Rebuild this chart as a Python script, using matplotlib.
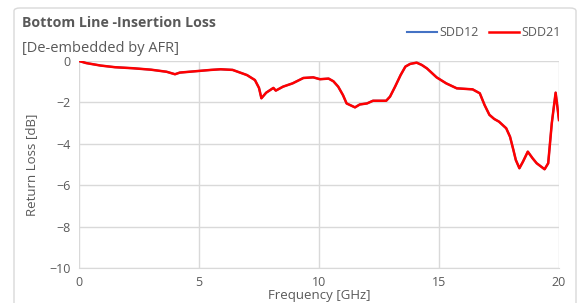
import matplotlib.pyplot as plt
from matplotlib.patches import FancyBboxPatch

# (GHz, dB)
freq = [0.0, 0.3, 0.9, 1.5, 2.25, 3.0, 3.65, 4.0, 4.2, 4.6, 5.0, 5.5, 5.9, 6.4, 7.0, 7.33,
        7.5, 7.6, 7.8, 8.1, 8.2, 8.5, 8.9, 9.35, 9.76, 10.04, 10.4, 10.6, 10.8, 11.0, 11.15,
        11.5, 11.7, 12.0, 12.25, 12.8, 12.96, 13.17, 13.4, 13.6, 13.8, 14.07, 14.28, 14.5,
        14.9, 15.3, 15.74, 16.4, 16.7, 16.9, 17.1, 17.3, 17.5, 17.8, 17.96, 18.1, 18.2, 18.35,
        18.5, 18.7, 18.9, 19.07, 19.4, 19.55, 19.7, 19.86, 20.0]
sdd21 = [0.0, -0.1, -0.22, -0.3, -0.35, -0.42, -0.52, -0.64, -0.56, -0.52, -0.48, -0.43, -0.4,
         -0.43, -0.68, -0.92, -1.3, -1.8, -1.53, -1.3, -1.43, -1.24, -1.08, -0.82, -0.79, -0.88,
         -0.85, -0.98, -1.24, -1.65, -2.05, -2.24, -2.1, -2.05, -1.92, -1.92, -1.72, -1.24,
         -0.68, -0.27, -0.14, -0.08, -0.19, -0.36, -0.79, -1.08, -1.32, -1.37, -1.56, -2.13,
         -2.6, -2.8, -2.93, -3.25, -3.66, -4.3, -4.78, -5.18, -4.86, -4.38, -4.7, -4.94,
         -5.23, -4.94, -3.0, -1.53, -2.85]
sdd12 = list(sdd21)  # hidden under SDD21 in the original

xticks = [0, 5, 10, 15, 20]
yticks = [0, -2, -4, -6, -8, -10]

plt.rcParams['font.family'] = ['Open Sans', 'DejaVu Sans']
gray = '#595959'

fig = plt.figure(figsize=(5.78, 3.03), dpi=100)
fig.patches.append(FancyBboxPatch((14 / 578, -0.05), 562 / 578, 1.0 - 8 / 303 + 0.05,
                                  boxstyle='round,pad=0,rounding_size=0.01',
                                  transform=fig.transFigure, fill=False,
                                  edgecolor='#d9d9d9', linewidth=1))

ax = fig.add_axes([79 / 578, 1 - 268 / 303, 480 / 578, 207 / 303])
ax.plot(freq, sdd12, color='#4472c4', linewidth=1.5, label='SDD12')
ax.plot(freq, sdd21, color='#ff0000', linewidth=1.8, label='SDD21')

ax.set_xlim(0, 20)
ax.set_ylim(-10, 0)
ax.set_xticks(xticks)
ax.set_yticks(yticks)
ax.grid(True, color='#d9d9d9', linewidth=1)
ax.set_axisbelow(True)
for side in ['top', 'right', 'left']:
    ax.spines[side].set_visible(False)
ax.spines['bottom'].set_color('#d9d9d9')
ax.tick_params(length=0, colors=gray, labelsize=9, pad=6)
ax.set_xlabel('Frequency [GHz]', color=gray, fontsize=9.5, labelpad=0)
ax.set_ylabel('Return Loss [dB]', color=gray, fontsize=9.5, labelpad=8)

fig.text(22 / 578, 1 - 23 / 303, 'Bottom Line -Insertion Loss', fontsize=10.2, fontweight='bold',
         color=gray, va='center')
fig.text(22 / 578, 1 - 48 / 303, '[De-embedded by AFR]', fontsize=10.5, color=gray, va='center')

leg = ax.legend(loc='center right', bbox_to_anchor=(572 / 578, 1 - 33 / 303),
                bbox_transform=fig.transFigure, ncol=2, frameon=False, fontsize=9,
                handlelength=2.4, handletextpad=0.2, columnspacing=0.8)
for t in leg.get_texts():
    t.set_color(gray)

fig.savefig('out.png', dpi=100)
